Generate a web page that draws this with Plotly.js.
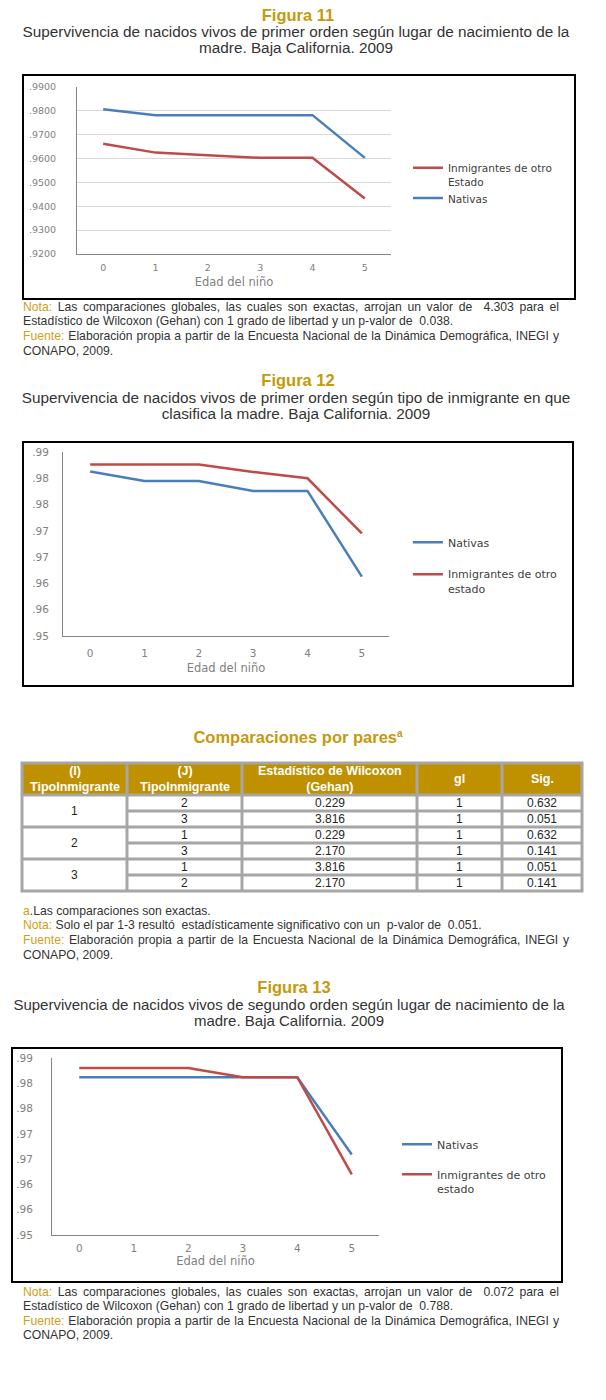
<!DOCTYPE html>
<html>
<head>
<meta charset="utf-8">
<script src="https://cdn.plot.ly/plotly-3.0.1.min.js"></script>
<style>
  html, body { margin:0; padding:0; background:#fff; }
  body { position:relative; width:606px; height:1400px; overflow:hidden; font-family:"Liberation Sans", Arial, sans-serif; }
  .abs { position:absolute; }
  .fig { left:0; width:596px; text-align:center; color:#C49A0C; font-weight:bold; font-size:16.5px; line-height:18px; }
  .sub { left:0; width:592px; text-align:center; color:#333; font-size:15.3px; line-height:16px; }
  .note { color:#333; font-size:12.2px; }
  .note div { white-space:nowrap; }
  .note div.j { text-align:justify; text-align-last:justify; white-space:normal; }
  .lbl { color:#CFA01A; }
  .box { border:2px solid #000; box-sizing:border-box; }
  .box > div { position:absolute; left:0; top:0; }
  sup { font-size:10px; line-height:0; }
</style>
</head>
<body>

<div class="abs fig" style="top:6px;">Figura 11</div>
<div class="abs sub" style="top:24px;">Supervivencia de nacidos vivos de primer orden según lugar de nacimiento de la<br>madre. Baja California. 2009</div>
<div class="abs box" style="left:22px;top:74px;width:554px;height:226px;"><div id="c11"></div></div>
<div class="abs note" style="left:23px;top:299.5px;width:536px;line-height:14.7px;">
  <div class="j"><span class="lbl">Nota:</span> Las comparaciones globales, las cuales son exactas, arrojan un valor de&nbsp; 4.303 para el</div>
  <div>Estadístico de Wilcoxon (Gehan) con 1 grado de libertad y un p-valor de&nbsp; 0.038.</div>
  <div class="j"><span class="lbl">Fuente:</span> Elaboración propia a partir de la Encuesta Nacional de la Dinámica Demográfica, INEGI y</div>
  <div>CONAPO, 2009.</div>
</div>

<div class="abs fig" style="top:371px;">Figura 12</div>
<div class="abs sub" style="top:389.7px;">Supervivencia de nacidos vivos de primer orden según tipo de inmigrante en que<br>clasifica la madre. Baja California. 2009</div>
<div class="abs box" style="left:22px;top:441px;width:552px;height:246px;"><div id="c12"></div></div>

<div class="abs fig" style="top:727.7px;">Comparaciones por pares<sup>a</sup></div>
<div id="tbl" class="abs" style="left:0;top:755px;"></div>
<div class="abs note" style="left:23px;top:903.7px;width:546px;line-height:14.7px;">
  <div><span class="lbl">a</span>.Las comparaciones son exactas.</div>
  <div><span class="lbl">Nota:</span> Solo el par 1-3 resultó&nbsp; estadísticamente significativo con un&nbsp; p-valor de&nbsp; 0.051.</div>
  <div class="j"><span class="lbl">Fuente:</span> Elaboración propia a partir de la Encuesta Nacional de la Dinámica Demográfica, INEGI y</div>
  <div>CONAPO, 2009.</div>
</div>

<div class="abs fig" style="top:978px;width:588px;">Figura 13</div>
<div class="abs sub" style="top:997px;width:578px;font-size:15px;">Supervivencia de nacidos vivos de segundo orden según lugar de nacimiento de la<br>madre. Baja California. 2009</div>
<div class="abs box" style="left:11px;top:1047px;width:552px;height:236px;"><div id="c13"></div></div>
<div class="abs note" style="left:23px;top:1284.7px;width:536px;line-height:14.5px;">
  <div class="j"><span class="lbl">Nota:</span> Las comparaciones globales, las cuales son exactas, arrojan un valor de&nbsp; 0.072 para el</div>
  <div>Estadístico de Wilcoxon (Gehan) con 1 grado de libertad y un p-valor de&nbsp; 0.788.</div>
  <div class="j"><span class="lbl">Fuente:</span> Elaboración propia a partir de la Encuesta Nacional de la Dinámica Demográfica, INEGI y</div>
  <div>CONAPO, 2009.</div>
</div>

<script>
// ---------------- DATA ----------------
const AGES = [0, 1, 2, 3, 4, 5];
const AGE_LABELS = ['0', '1', '2', '3', '4', '5'];
const X_TITLE = 'Edad del niño';

const NAME_NATIVAS = 'Nativas';
const NAME_INMIG_11 = 'Inmigrantes de otro<br>Estado';
const NAME_INMIG = 'Inmigrantes de otro<br>estado';

// Figura 11
const F11_NATIVAS     = [0.9807, 0.9782, 0.9782, 0.9782, 0.9782, 0.9603];
const F11_INMIGRANTES = [0.9662, 0.9625, 0.9614, 0.9603, 0.9603, 0.9433];
const F11_Y_TICKS  = [0.92, 0.93, 0.94, 0.95, 0.96, 0.97, 0.98, 0.99];
const F11_Y_LABELS = ['.9200', '.9300', '.9400', '.9500', '.9600', '.9700', '.9800', '.9900'];

// Figura 12
const F12_NATIVAS     = [0.9863, 0.9845, 0.9845, 0.9826, 0.9826, 0.9663];
const F12_INMIGRANTES = [0.9876, 0.9876, 0.9876, 0.9862, 0.9850, 0.9745];

// Figura 13
const F13_NATIVAS     = [0.9862, 0.9862, 0.9862, 0.9862, 0.9862, 0.9709];
const F13_INMIGRANTES = [0.9880, 0.9880, 0.9880, 0.9862, 0.9862, 0.9670];

const F12_Y_TICKS  = [0.955, 0.96, 0.965, 0.97, 0.975, 0.98, 0.985, 0.99];
const F12_Y_LABELS = ['.95', '.96', '.96', '.97', '.97', '.98', '.98', '.99'];

// Comparaciones por pares
const TBL_HEADERS = ['(I)<br>TipoInmigrante', '(J)<br>TipoInmigrante', 'Estadístico de Wilcoxon<br>(Gehan)', 'gl', 'Sig.'];
const TBL_I        = ['1', '2', '3'];
const TBL_J        = ['2', '3', '1', '3', '1', '2'];
const TBL_WILCOXON = ['0.229', '3.816', '0.229', '2.170', '3.816', '2.170'];
const TBL_GL       = ['1', '1', '1', '1', '1', '1'];
const TBL_SIG      = ['0.632', '0.051', '0.632', '0.141', '0.051', '0.141'];

// ---------------- STYLE ----------------
const BLUE = '#4A7EBB';
const RED = '#BE4B48';
const CHART_FONT = 'DejaVu Sans, Verdana, sans-serif';

function drawChart(id, o) {
  const traces = o.series.map(s => ({
    type: 'scatter', mode: 'lines', x: AGES, y: s.y, name: s.name,
    legendgroup: s.name, line: { color: s.color, width: 2.5 }, hoverinfo: 'skip'
  }));
  const layout = {
    width: o.w, height: o.h,
    margin: { l: o.m[0], r: o.m[1], t: o.m[2], b: o.m[3], pad: 0 },
    paper_bgcolor: '#ffffff', plot_bgcolor: '#ffffff',
    showlegend: true,
    legend: {
      x: o.lg[0], y: o.lg[1], xanchor: 'left', yanchor: 'top', valign: 'top',
      traceorder: 'grouped', tracegroupgap: o.lg[2], itemwidth: 30,
      bgcolor: 'rgba(0,0,0,0)', borderwidth: 0,
      font: { family: CHART_FONT, size: o.legendSize, color: '#404040' }
    },
    xaxis: {
      range: [-0.5, 5.5], tickmode: 'array', tickvals: AGES, ticktext: AGE_LABELS,
      showline: true, linecolor: '#868686', linewidth: 1, showgrid: false, zeroline: false,
      ticks: '', ticklabelstandoff: o.xStand,
      tickfont: { family: CHART_FONT, size: o.tickSize, color: '#7f7f7f' },
      title: { text: X_TITLE, standoff: o.titleStand, font: { family: CHART_FONT, size: 11.5, color: '#7f7f7f' } },
      fixedrange: true
    },
    yaxis: {
      range: o.yRange, tickmode: 'array', tickvals: o.yTicks, ticktext: o.yLabels,
      showline: true, linecolor: '#868686', linewidth: 1,
      showgrid: o.grid, gridcolor: '#d9d9d9', gridwidth: 1, zeroline: false,
      ticks: '', ticklabelstandoff: o.yStand,
      tickfont: { family: CHART_FONT, size: o.tickSize, color: '#7f7f7f' },
      fixedrange: true
    }
  };
  Plotly.newPlot(id, traces, layout, { staticPlot: true, displayModeBar: false });
}

drawChart('c11', {
  w: 550, h: 222, m: [53, 183, 11, 44],
  series: [
    { name: NAME_INMIG_11, y: F11_INMIGRANTES, color: RED },
    { name: NAME_NATIVAS, y: F11_NATIVAS, color: BLUE }
  ],
  yRange: [0.92, 0.99], yTicks: F11_Y_TICKS, yLabels: F11_Y_LABELS, grid: true,
  lg: [1.054, 0.596, 0], legendSize: 10.5, tickSize: 9.5,
  xStand: 5, yStand: 18, titleStand: 5
});

drawChart('c12', {
  w: 548, h: 242, m: [39, 183, 9, 49],
  series: [
    { name: NAME_NATIVAS, y: F12_NATIVAS, color: BLUE },
    { name: NAME_INMIG, y: F12_INMIGRANTES, color: RED }
  ],
  yRange: [0.955, 0.99], yTicks: F12_Y_TICKS, yLabels: F12_Y_LABELS, grid: false,
  lg: [1.058, 0.584, 13], legendSize: 11, tickSize: 10.5,
  xStand: 7, yStand: 11, titleStand: 6
});

drawChart('c13', {
  w: 548, h: 232, m: [39, 182, 9, 46],
  series: [
    { name: NAME_NATIVAS, y: F13_NATIVAS, color: BLUE },
    { name: NAME_INMIG, y: F13_INMIGRANTES, color: RED }
  ],
  yRange: [0.955, 0.99], yTicks: F12_Y_TICKS, yLabels: F12_Y_LABELS, grid: false,
  lg: [1.055, 0.590, 11], legendSize: 11, tickSize: 10.5,
  xStand: 3, yStand: 16, titleStand: 0
});

// ---------------- TABLE ----------------
(function drawTable() {
  const G = {
    top: 755, w: 606, h: 145,
    cols: [22, 127, 242, 417, 502, 582],
    rows: [763, 795, 811, 827, 843, 859, 875, 891],
    inset: 1.5, border: '#A6A6A6', head: '#BF9000'
  };
  const Y = v => v - G.top;
  const shapes = [];
  const ann = [];
  const rect = (x0, x1, y0, y1, fill) => shapes.push({
    type: 'rect', xref: 'x', yref: 'y', layer: 'above',
    x0: x0 + G.inset, x1: x1 - G.inset, y0: Y(y0) + G.inset, y1: Y(y1) - G.inset,
    fillcolor: fill, line: { width: 0 }
  });
  const text = (t, x0, x1, y0, y1, font) => ann.push({
    xref: 'x', yref: 'y', x: (x0 + x1) / 2, y: Y((y0 + y1) / 2),
    xanchor: 'center', yanchor: 'middle', showarrow: false, text: t, font: font
  });
  // outer grey frame
  shapes.push({
    type: 'rect', xref: 'x', yref: 'y', layer: 'above',
    x0: G.cols[0] - 1.5, x1: G.cols[G.cols.length - 1] + 1.5,
    y0: Y(G.rows[0]) - 1.5, y1: Y(G.rows[G.rows.length - 1]) + 1.5,
    fillcolor: G.border, line: { width: 0 }
  });
  const headFont = { family: 'Liberation Sans, Arial, sans-serif', size: 12.5, color: '#ffffff' };
  const cellFont = { family: 'Liberation Sans, Arial, sans-serif', size: 12, color: '#262626' };
  TBL_HEADERS.forEach((h, c) => {
    rect(G.cols[c], G.cols[c + 1], G.rows[0], G.rows[1], G.head);
    text(h.split('<br>').map(s => '<b>' + s + '</b>').join('<br>'), G.cols[c], G.cols[c + 1], G.rows[0], G.rows[1], headFont);
  });
  TBL_I.forEach((v, k) => {
    const y0 = G.rows[1 + 2 * k], y1 = G.rows[3 + 2 * k];
    rect(G.cols[0], G.cols[1], y0, y1, '#ffffff');
    text(v, G.cols[0], G.cols[1], y0, y1, cellFont);
  });
  const cols = [TBL_J, TBL_WILCOXON, TBL_GL, TBL_SIG];
  cols.forEach((arr, ci) => {
    const c = ci + 1;
    arr.forEach((v, r) => {
      rect(G.cols[c], G.cols[c + 1], G.rows[r + 1], G.rows[r + 2], '#ffffff');
      text(v, G.cols[c], G.cols[c + 1], G.rows[r + 1], G.rows[r + 2], cellFont);
    });
  });
  Plotly.newPlot('tbl', [], {
    width: G.w, height: G.h, margin: { l: 0, r: 0, t: 0, b: 0, pad: 0 },
    paper_bgcolor: 'rgba(0,0,0,0)', plot_bgcolor: 'rgba(0,0,0,0)',
    xaxis: { range: [0, G.w], visible: false, fixedrange: true },
    yaxis: { range: [G.h, 0], visible: false, fixedrange: true },
    shapes: shapes, annotations: ann, showlegend: false
  }, { staticPlot: true, displayModeBar: false });
})();
</script>
</body>
</html>
